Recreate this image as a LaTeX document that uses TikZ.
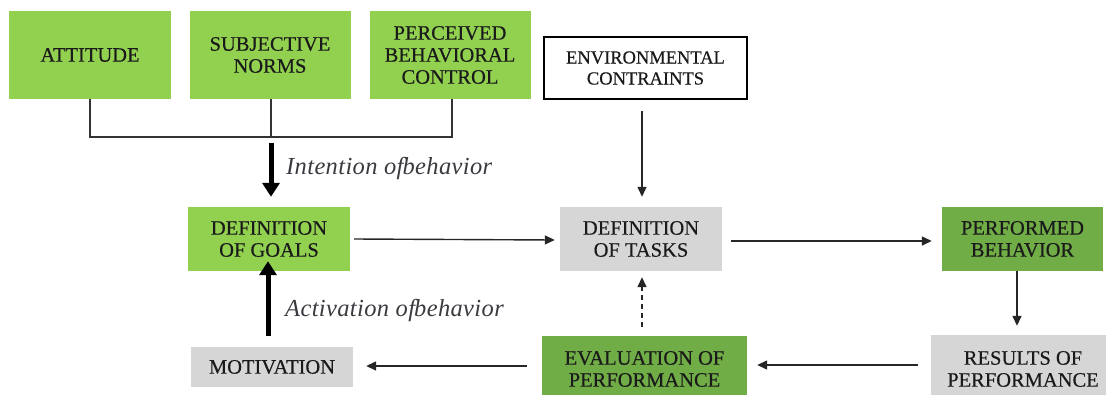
\documentclass[tikz,border=0pt]{standalone}
\usepackage{fontspec}
\setmainfont{Liberation Serif}
\newfontfamily\bxfont[FakeBold=0.4]{Liberation Serif}
\newfontfamily\lbfont[LetterSpace=1.5]{Liberation Serif}
\usetikzlibrary{arrows.meta}
\definecolor{lgreen}{HTML}{92D050}
\definecolor{dgreen}{HTML}{70AD47}
\definecolor{lgray}{HTML}{D6D6D6}
\definecolor{txt}{HTML}{1A1A1A}
\definecolor{lbl}{HTML}{3A3A40}
\tikzset{
  boxbase/.style={inner sep=0pt, align=center, text=txt, font=\bxfont\fontsize{20.5}{22}\selectfont},
  gbox/.style={boxbase, fill=lgreen},
  dbox/.style={boxbase, fill=dgreen},
  graybox/.style={boxbase, fill=lgray},
  thinarrow/.style={draw=black!85, line width=1.4pt, -{Triangle[length=10pt,width=9pt]}},
  bracketline/.style={draw=black!80, line width=2pt},
  thickarrow/.style={draw=black, line width=5pt, -{Triangle[length=14pt,width=17pt]}},
  lbltext/.style={text=lbl, font=\lbfont\fontsize{24.5}{26}\selectfont\itshape, inner sep=0pt, anchor=base west}
}
\begin{document}
\begin{tikzpicture}[x=1pt,y=-1pt]
\useasboundingbox (0,0) rectangle (1106,394);
% top row
\node[gbox, minimum width=162pt, minimum height=88pt] (att) at (90,55) {ATTITUDE};
\node[gbox, minimum width=161pt, minimum height=88pt] (subj) at (270,55) {SUBJECTIVE\\NORMS};
\node[gbox, minimum width=161pt, minimum height=88pt] (pbc) at (450,55) {PERCEIVED\\BEHAVIORAL\\CONTROL};
\node[boxbase, draw=black, line width=2pt, fill=white, minimum width=203pt, minimum height=62pt, font=\bxfont\fontsize{18.5}{21}\selectfont] (env) at (645.5,68) {ENVIRONMENTAL\\CONTRAINTS};
% middle row
\node[gbox, minimum width=162pt, minimum height=64pt] (goals) at (269,239) {DEFINITION\\OF GOALS};
\node[graybox, minimum width=162pt, minimum height=64pt] (tasks) at (641,239) {DEFINITION\\OF TASKS};
\node[dbox, minimum width=161pt, minimum height=64pt] (perf) at (1022.5,239) {PERFORMED\\BEHAVIOR};
% bottom row
\node[graybox, minimum width=162pt, minimum height=40pt] (mot) at (272,367) {MOTIVATION};
\node[dbox, minimum width=205pt, minimum height=66pt] (eval) at (644.5,369) {EVALUATION OF\\PERFORMANCE};
\node[graybox, minimum width=184pt, minimum height=68pt] (res) at (1023,369) {RESULTS OF\\PERFORMANCE};
% bracket
\coordinate (j) at (271,137);
\draw[bracketline] (att.south) |- (j);
\draw[bracketline] (j) -| ([xshift=2pt]pbc.south);
\draw[bracketline] ([xshift=1pt]subj.south) -- (j);
% thick arrows
\draw[thickarrow] ([yshift=-6pt]j) -- ([yshift=10pt]j |- goals.north);
\node[lbltext] (intent) at (286,174) {Intention of\hspace{-1pt}behavior};
\coordinate (ma) at (268,336);
\draw[thickarrow] (ma) -- ([yshift=10pt]ma |- goals.south);
\node[lbltext] (activ) at (285,316) {Activation of\hspace{-1pt}behavior};
% thin arrows
\coordinate (ea) at (642,111);
\draw[thinarrow] (ea) -- ([yshift=10pt]ea |- tasks.north);
\draw[thinarrow] ([xshift=4pt]goals.east |- 0,239) -- ([xshift=-5pt]tasks.west |- 0,240);
\draw[thinarrow] ([xshift=9pt]tasks.east |- 0,241) -- ([xshift=-10pt]perf.west |- 0,241);
\coordinate (pa) at (1017,271);
\draw[thinarrow] (pa) -- ([yshift=9pt]pa |- res.north);
\draw[thinarrow] ([xshift=-13pt]res.west |- 0,365) -- ([xshift=10pt]eval.east |- 0,365);
\draw[thinarrow] ([xshift=-15pt]eval.west |- 0,366) -- ([xshift=13pt]mot.east |- 0,366);
\coordinate (da) at (642,327);
\draw[thinarrow, dashed, dash pattern=on 5pt off 4pt] (da) -- ([yshift=-6pt]da |- tasks.south);
\end{tikzpicture}
\end{document}
